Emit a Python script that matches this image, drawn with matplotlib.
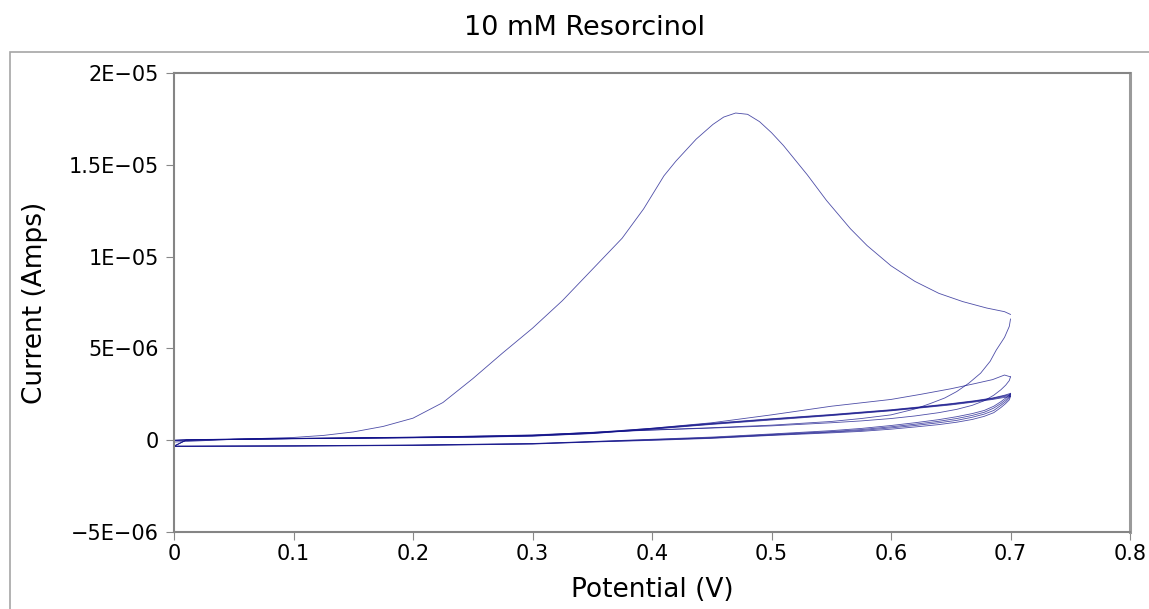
import matplotlib
matplotlib.use("Agg")
import matplotlib.pyplot as plt
from matplotlib.patches import Rectangle

# scan data (potential in V, current in uA)
e_c1_fwd = [0.0, 0.05, 0.1, 0.125, 0.15, 0.175, 0.2, 0.225, 0.25, 0.275, 0.3, 0.325,
            0.35, 0.375, 0.393, 0.41, 0.42, 0.437, 0.451, 0.46, 0.47, 0.48, 0.49,
            0.5, 0.51, 0.52, 0.53, 0.546, 0.566, 0.58, 0.6, 0.62, 0.64, 0.66, 0.68,
            0.695, 0.7]
i_c1_fwd = [-0.1, 0.05, 0.15, 0.26, 0.45, 0.75, 1.2, 2.05, 3.35, 4.75, 6.1, 7.6,
            9.3, 11.0, 12.6, 14.4, 15.2, 16.4, 17.2, 17.6, 17.82, 17.75, 17.35,
            16.75, 16.05, 15.25, 14.45, 13.06, 11.52, 10.6, 9.5, 8.65, 8.0, 7.55, 7.2,
            7.0, 6.85]

e_c1_rev = [0.7, 0.699, 0.695, 0.688, 0.683, 0.675, 0.665, 0.655, 0.645, 0.633,
            0.62, 0.6, 0.575, 0.55, 0.5, 0.45, 0.4, 0.35, 0.3, 0.2, 0.1, 0.0]
i_c1_rev = [6.6, 6.2, 5.6, 4.9, 4.3, 3.65, 3.1, 2.65, 2.3, 2.0,
            1.7, 1.38, 1.18, 1.02, 0.82, 0.68, 0.56, 0.43, 0.27, 0.16, 0.09, 0.0]

e_fwd = [0.0, 0.01, 0.05, 0.1, 0.15, 0.2, 0.25, 0.3, 0.35, 0.4, 0.45, 0.5,
         0.55, 0.6, 0.625, 0.65, 0.67, 0.685, 0.695, 0.7]
e_rev = [0.7, 0.699, 0.696, 0.692, 0.686, 0.678, 0.668, 0.655, 0.64, 0.62, 0.6,
         0.575, 0.55, 0.5, 0.45, 0.4, 0.35, 0.3, 0.2, 0.1, 0.01, 0.0]

i_c2_fwd = [0.0, 0.03, 0.06, 0.1, 0.13, 0.17, 0.22, 0.29, 0.42, 0.65, 0.95, 1.38,
            1.85, 2.22, 2.5, 2.8, 3.08, 3.3, 3.55, 3.45]
i_c2_rev = [3.45, 3.25, 3.0, 2.75, 2.45, 2.15, 1.9, 1.68, 1.5, 1.32, 1.18,
            1.05, 0.95, 0.78, 0.66, 0.55, 0.42, 0.26, 0.15, 0.08, 0.0, -0.02]

i_c3_fwd = [-0.02, 0.02, 0.06, 0.1, 0.12, 0.15, 0.19, 0.25, 0.4, 0.65, 0.92, 1.17,
            1.4, 1.66, 1.82, 1.99, 2.15, 2.3, 2.45, 2.55]
i_c3_rev = [2.55, 2.45, 2.3, 2.1, 1.85, 1.62, 1.45, 1.28, 1.12, 0.95, 0.8,
            0.64, 0.52, 0.34, 0.17, 0.05, -0.07, -0.18, -0.26, -0.3, -0.32, -0.32]

i_c4_fwd = [-0.32, 0.0, 0.05, 0.09, 0.11, 0.14, 0.18, 0.24, 0.38, 0.63, 0.9, 1.15,
            1.38, 1.64, 1.8, 1.97, 2.13, 2.28, 2.42, 2.5]
i_c4_rev = [2.5, 2.38, 2.2, 2.0, 1.75, 1.52, 1.35, 1.18, 1.03, 0.87, 0.73,
            0.58, 0.47, 0.31, 0.14, 0.03, -0.08, -0.19, -0.27, -0.31, -0.33, -0.33]

i_c5_fwd = [-0.33, 0.0, 0.05, 0.09, 0.11, 0.14, 0.17, 0.23, 0.37, 0.61, 0.88, 1.13,
            1.36, 1.62, 1.78, 1.95, 2.11, 2.25, 2.38, 2.45]
i_c5_rev = [2.45, 2.3, 2.1, 1.9, 1.62, 1.42, 1.25, 1.08, 0.95, 0.8, 0.67,
            0.53, 0.44, 0.28, 0.12, 0.01, -0.09, -0.2, -0.28, -0.32, -0.33, -0.33]

i_c6_fwd = [-0.33, 0.0, 0.04, 0.08, 0.1, 0.13, 0.16, 0.22, 0.36, 0.6, 0.86, 1.1,
            1.34, 1.6, 1.76, 1.92, 2.08, 2.22, 2.33, 2.38]
i_c6_rev = [2.38, 2.2, 2.0, 1.78, 1.5, 1.3, 1.13, 0.98, 0.85, 0.72, 0.6,
            0.48, 0.4, 0.26, 0.1, -0.01, -0.1, -0.21, -0.29, -0.32, -0.34, -0.34]

W, H = 1149, 609
fig = plt.figure(figsize=(W / 100, H / 100), dpi=100)
ax = fig.add_axes([174 / W, (H - 532) / H, (1130 - 174) / W, (532 - 73) / H])

# outer chart border
fig.patches.append(Rectangle((10 / W, -0.05), 1.2, (H - 52) / H + 0.05,
                             transform=fig.transFigure, fill=False,
                             edgecolor="#a6a6a6", linewidth=1.2))

line_kw = dict(color="#12128a", linewidth=0.6, alpha=0.75)
ax.plot(e_c1_fwd, [v * 1e-6 for v in i_c1_fwd], **line_kw)
ax.plot(e_c1_rev, [v * 1e-6 for v in i_c1_rev], **line_kw)
for fwd, rev in [(i_c2_fwd, i_c2_rev), (i_c3_fwd, i_c3_rev), (i_c4_fwd, i_c4_rev),
                 (i_c5_fwd, i_c5_rev), (i_c6_fwd, i_c6_rev)]:
    ax.plot(e_fwd, [v * 1e-6 for v in fwd], **line_kw)
    ax.plot(e_rev, [v * 1e-6 for v in rev], **line_kw)

ax.set_xlim(0, 0.8)
ax.set_ylim(-5e-6, 2e-5)
xticks = [0, 0.1, 0.2, 0.3, 0.4, 0.5, 0.6, 0.7, 0.8]
xtick_labels = ["0", "0.1", "0.2", "0.3", "0.4", "0.5", "0.6", "0.7", "0.8"]
yticks = [-5e-6, 0, 5e-6, 1e-5, 1.5e-5, 2e-5]
ytick_labels = ["\u22125E\u221206", "0", "5E\u221206", "1E\u221205", "1.5E\u221205", "2E\u221205"]
ax.set_xticks(xticks)
ax.set_xticklabels(xtick_labels)
ax.set_yticks(yticks)
ax.set_yticklabels(ytick_labels)
ax.tick_params(axis="both", direction="out", length=6, width=0.8, color="#888888",
               labelsize=15, labelcolor="black")
ax.tick_params(axis="y", pad=5)
ax.tick_params(axis="x", pad=3)

for s in ax.spines.values():
    s.set_color("#858585")
    s.set_linewidth(1.5)
ax.spines["right"].set_linewidth(2.2)
ax.spines["right"].set_color("#9a9a9a")

ax.set_xlabel("Potential (V)", fontsize=19)
ax.set_ylabel("Current (Amps)", fontsize=19)
ax.xaxis.set_label_coords(0.5, -0.098)
ax.yaxis.set_label_coords(-0.132, 0.5)

fig.text(585 / W, 1 - 28 / H, "10 mM Resorcinol", ha="center", va="center", fontsize=19.5)

fig.savefig("out.png", dpi=100)
